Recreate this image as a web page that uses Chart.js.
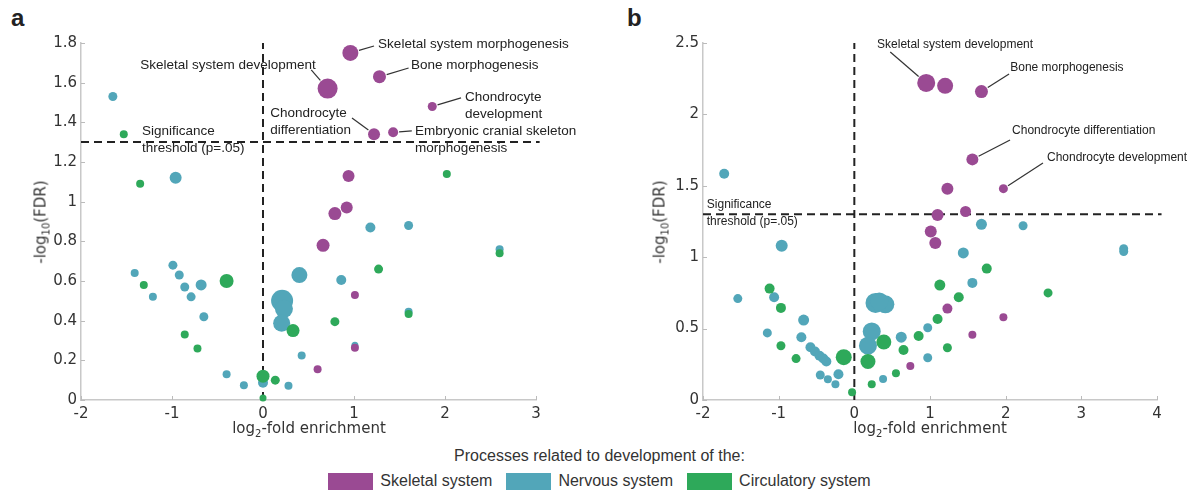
<!DOCTYPE html>
<html>
<head>
<meta charset="utf-8">
<script src="https://cdn.jsdelivr.net/npm/chart.js@4.4.1/dist/chart.umd.min.js"></script>
<style>
  body { margin: 0; width: 1199px; height: 494px; background: #fff; position: relative; overflow: hidden;
         font-family: "Liberation Sans", Arial, sans-serif; color: #222; }
  canvas { position: absolute; top: 0; }
  #chartA { left: 0; }
  #chartB { left: 600px; }
  .panel { position: absolute; font-weight: bold; font-size: 24px; line-height: 1; }
  .xt { position: absolute; top: 421px; font-family: "DejaVu Sans", sans-serif; font-size: 15px; line-height: 1;
        color: #333; transform: translateX(-50%); white-space: nowrap; }
  .yt { position: absolute; font-family: "DejaVu Sans", sans-serif; font-size: 15px; line-height: 1; color: #333;
        white-space: nowrap; transform: translate(-50%, -50%) rotate(-90deg); }
  sub { font-size: 10px; vertical-align: -4px; line-height: 0; }
  #legTitle { position: absolute; top: 448px; left: 0; width: 1199px; text-align: center; font-size: 16px; line-height: 1; color: #333; }
  #legend { position: absolute; top: 472px; left: 0; width: 1199px; display: flex; justify-content: center;
            font-size: 16px; line-height: 18px; color: #333; }
  .item { display: flex; align-items: center; margin: 0 7px; }
  .sw { width: 45px; height: 17px; margin-right: 7px; }
</style>
</head>
<body>
<div class="panel" style="left:11px; top:6px">a</div>
<div class="panel" style="left:627px; top:6px">b</div>
<canvas id="chartA" width="600" height="440"></canvas>
<canvas id="chartB" width="599" height="440"></canvas>
<div class="xt" style="left:309px">log<sub>2</sub>-fold enrichment</div>
<div class="xt" style="left:930px">log<sub>2</sub>-fold enrichment</div>
<div class="yt" style="left:41px; top:222px">-log<sub>10</sub>(FDR)</div>
<div class="yt" style="left:660px; top:222px">-log<sub>10</sub>(FDR)</div>
<div id="legTitle">Processes related to development of the:</div>
<div id="legend"></div>

<script>
// groups and colours
const groups = ['Skeletal system', 'Nervous system', 'Circulatory system'];
const groupColors = ['#9a4a93', '#52a6b9', '#2ea95a'];
const threshold = 1.301; // -log10(0.05)

// panel a: x = log2-fold enrichment, y = -log10(FDR), r = marker size
const aSkelX = [0.96, 1.28, 0.71, 1.86, 1.22, 1.43, 0.94, 0.92, 0.79, 0.66, 1.01, 1.01, 0.60];
const aSkelY = [1.75, 1.63, 1.57, 1.48, 1.34, 1.35, 1.13, 0.97, 0.94, 0.78, 0.53, 0.264, 0.155];
const aSkelR = [8, 6.5, 10, 4.5, 6, 5, 6, 6, 6.5, 6.5, 4, 4, 4];

const aNervX = [-1.65, -0.96, 1.18, 1.60, 2.60, 0.40, 0.86, 0.21, 0.23, 1.60, 0.205, 1.01, 0.425, 0.28, 0, -1.41, -1.21, -0.99, -0.92, -0.86, -0.79, -0.68, -0.65, -0.40, -0.21];
const aNervY = [1.53, 1.12, 0.87, 0.88, 0.76, 0.63, 0.605, 0.50, 0.46, 0.445, 0.387, 0.276, 0.225, 0.072, 0.087, 0.64, 0.52, 0.68, 0.63, 0.57, 0.52, 0.58, 0.42, 0.13, 0.074];
const aNervR = [4.5, 6, 5, 4.5, 4, 8, 5, 11, 9, 4, 8.5, 3.5, 4, 4, 5, 4, 4, 4.5, 4.5, 4.5, 4.5, 5.5, 4.5, 4, 4];

const aCircX = [-1.53, -1.35, 2.02, 1.27, 2.60, 1.60, 0.79, 0.33, -1.31, -0.40, -0.86, -0.72, 0, 0.135, 0];
const aCircY = [1.34, 1.09, 1.14, 0.66, 0.74, 0.434, 0.395, 0.35, 0.58, 0.60, 0.33, 0.26, 0.12, 0.10, 0.01];
const aCircR = [4, 4, 4, 4.5, 4, 4, 4.5, 6.5, 4, 7, 4, 4, 6.5, 4.5, 3.5];

// panel b
const bSkelX = [0.95, 1.20, 1.68, 1.56, 1.23, 1.97, 1.10, 1.47, 1.01, 1.07, 1.23, 1.97, 1.56, 0.74];
const bSkelY = [2.22, 2.20, 2.16, 1.685, 1.48, 1.48, 1.295, 1.32, 1.18, 1.10, 0.64, 0.58, 0.457, 0.238];
const bSkelR = [9, 8, 6.5, 6, 6, 4.5, 6, 5.5, 6, 6, 5, 4, 4, 4];

const bNervX = [-1.72, 1.68, 2.23, 1.44, 3.56, 3.56, 1.56, 0.97, 0.62, 0.97, 0.38, -0.96, -1.54, -1.06, -0.67, -1.15, -0.70, -0.58, -0.52, -0.46, -0.41, -0.37, -0.45, -0.35, -0.21, -0.25, 0.23, 0.18, 0.28, 0.41, 0.33];
const bNervY = [1.585, 1.23, 1.22, 1.03, 1.06, 1.04, 0.82, 0.506, 0.44, 0.296, 0.147, 1.08, 0.71, 0.72, 0.56, 0.47, 0.44, 0.37, 0.34, 0.31, 0.29, 0.27, 0.175, 0.145, 0.18, 0.11, 0.48, 0.38, 0.68, 0.67, 0.69];
const bNervR = [5, 5.5, 4.5, 5.5, 4.5, 4.5, 5, 4.5, 5.5, 4.5, 4, 6, 4.5, 5, 5.5, 4.5, 5, 5, 5, 5, 5, 5, 4.5, 4, 5, 4, 9, 9, 10, 9, 9];

const bCircX = [1.75, 1.13, 1.38, 2.56, 1.10, 0.85, 0.39, 1.23, 0.65, 0.55, -1.12, -0.97, -0.97, -0.77, -0.14, 0.18, 0.23, -0.03];
const bCircY = [0.92, 0.805, 0.72, 0.75, 0.567, 0.448, 0.406, 0.366, 0.35, 0.187, 0.78, 0.645, 0.38, 0.29, 0.30, 0.27, 0.11, 0.054];
const bCircR = [5, 5.5, 5, 4.5, 5, 5, 7.5, 4.5, 5, 4, 5, 5, 4.5, 4.5, 8, 7.5, 4, 4];

// labels: pt = index in the skeletal series, tx/ty = text anchor, lx/ly = end of leader line
const aNotes = [
  { lines: ['Skeletal system morphogenesis'], pt: 0, tx: 1.265, ty: 1.795, lx: 1.22, ly: 1.785 },
  { lines: ['Bone morphogenesis'], pt: 1, tx: 1.625, ty: 1.69, lx: 1.60, ly: 1.674 },
  { lines: ['Skeletal system development'], pt: 2, tx: 0.58, ty: 1.69, align: 'right', lx: 0.53, ly: 1.664 },
  { lines: ['Chondrocyte', 'development'], pt: 3, tx: 2.22, ty: 1.528, lx: 2.176, ly: 1.523 },
  { lines: ['Chondrocyte', 'differentiation'], pt: 4, tx: 0.08, ty: 1.447, lx: 0.978, ly: 1.422 },
  { lines: ['Embryonic cranial skeleton', 'morphogenesis'], pt: 5, tx: 1.67, ty: 1.357, lx: 1.635, ly: 1.357 },
  { lines: ['Significance', 'threshold (p=.05)'], tx: -1.33, ty: 1.357 }
];
const bNotes = [
  { lines: ['Skeletal system development'], pt: 0, tx: 0.30, ty: 2.486, lx: 0.475, ly: 2.437 },
  { lines: ['Bone morphogenesis'], pt: 2, tx: 2.06, ty: 2.325, lx: 2.045, ly: 2.283 },
  { lines: ['Chondrocyte differentiation'], pt: 3, tx: 2.085, ty: 1.884, lx: 2.058, ly: 1.821 },
  { lines: ['Chondrocyte development'], pt: 5, tx: 2.546, ty: 1.70, lx: 2.493, ly: 1.66 },
  { lines: ['Significance', 'threshold (p=.05)'], tx: -1.95, ty: 1.366 }
];

// legend
const legend = document.getElementById('legend');
groups.forEach((g, i) => {
  const it = document.createElement('div');
  it.className = 'item';
  it.innerHTML = '<div class="sw" style="background:' + groupColors[i] + '"></div><span>' + g + '</span>';
  legend.appendChild(it);
});

function points(xs, ys, rs) {
  return xs.map((x, i) => ({ x: x, y: ys[i], r: rs[i] }));
}

// dashed lines, inward ticks and text labels
const overlay = {
  id: 'overlay',
  beforeDatasetsDraw(chart, args, opts) {
    const { ctx, chartArea } = chart;
    const x = chart.scales.x, y = chart.scales.y;
    ctx.save();
    ctx.strokeStyle = '#bbb';
    ctx.lineWidth = 1;
    y.ticks.forEach(t => {
      const py = Math.round(y.getPixelForValue(t.value)) + 0.5;
      ctx.beginPath(); ctx.moveTo(chartArea.left, py); ctx.lineTo(chartArea.left + 4, py); ctx.stroke();
    });
    x.ticks.forEach(t => {
      const px = Math.round(x.getPixelForValue(t.value)) + 0.5;
      ctx.beginPath(); ctx.moveTo(px, chartArea.bottom); ctx.lineTo(px, chartArea.bottom - 4); ctx.stroke();
    });
    ctx.strokeStyle = '#222';
    ctx.lineWidth = 2;
    ctx.setLineDash([8, 5]);
    const yt = y.getPixelForValue(threshold);
    ctx.beginPath(); ctx.moveTo(chartArea.left, yt); ctx.lineTo(x.getPixelForValue(opts.hEnd), yt); ctx.stroke();
    const x0 = x.getPixelForValue(0);
    ctx.beginPath(); ctx.moveTo(x0, chartArea.bottom); ctx.lineTo(x0, chartArea.top); ctx.stroke();
    ctx.restore();
  },
  afterDatasetsDraw(chart, args, opts) {
    const { ctx } = chart;
    const x = chart.scales.x, y = chart.scales.y;
    const skel = chart.data.datasets[0].data;
    ctx.save();
    ctx.font = opts.fontSize + 'px "Liberation Sans", Arial, sans-serif';
    ctx.fillStyle = '#222';
    ctx.textBaseline = 'middle';
    opts.notes.forEach(n => {
      ctx.textAlign = n.align || 'left';
      const tx = x.getPixelForValue(n.tx), ty = y.getPixelForValue(n.ty);
      n.lines.forEach((s, i) => ctx.fillText(s, tx, ty + i * opts.lineHeight));
      if (n.pt !== undefined) {
        const p = skel[n.pt];
        const cx = x.getPixelForValue(p.x), cy = y.getPixelForValue(p.y);
        const ex = x.getPixelForValue(n.lx), ey = y.getPixelForValue(n.ly);
        const d = Math.hypot(ex - cx, ey - cy);
        const sx = cx + (ex - cx) / d * (p.r + 1), sy = cy + (ey - cy) / d * (p.r + 1);
        ctx.strokeStyle = '#333';
        ctx.lineWidth = 1.2;
        ctx.beginPath(); ctx.moveTo(sx, sy); ctx.lineTo(ex, ey); ctx.stroke();
      }
    });
    ctx.restore();
  }
};

function makeChart(id, skel, nerv, circ, cfg) {
  const tickFont = { family: 'DejaVu Sans', size: 15 };
  return new Chart(document.getElementById(id), {
    type: 'bubble',
    data: {
      datasets: [
        { label: groups[0], data: skel, backgroundColor: groupColors[0], order: 0 },
        { label: groups[1], data: nerv, backgroundColor: groupColors[1], order: 2 },
        { label: groups[2], data: circ, backgroundColor: groupColors[2], order: 1 }
      ]
    },
    options: {
      responsive: false,
      devicePixelRatio: 1,
      animation: false,
      events: [],
      clip: false,
      elements: { point: { borderWidth: 0, hoverRadius: 0 } },
      layout: { padding: { top: 43, right: cfg.padRight, left: 0, bottom: 0 } },
      plugins: {
        legend: { display: false },
        tooltip: { enabled: false },
        overlay: { hEnd: cfg.hEnd, notes: cfg.notes, fontSize: cfg.fontSize, lineHeight: 17 }
      },
      scales: {
        x: {
          type: 'linear', min: cfg.xMin, max: cfg.xMax,
          ticks: { stepSize: 1, font: tickFont, color: '#333', padding: 5 },
          grid: { display: true, drawOnChartArea: false, drawTicks: false },
          border: { display: true, color: '#c8c8c8', width: 1.5 },
          afterFit: s => { s.height = 40; }
        },
        y: {
          type: 'linear', min: 0, max: cfg.yMax,
          ticks: { stepSize: cfg.yStep, font: tickFont, color: '#333', padding: 4,
                   callback: v => String(+v.toFixed(2)) },
          grid: { display: true, drawOnChartArea: false, drawTicks: false },
          border: { display: true, color: '#c8c8c8', width: 1.5 },
          afterFit: s => { s.width = cfg.axisWidth; }
        }
      }
    },
    plugins: [overlay]
  });
}

makeChart('chartA', points(aSkelX, aSkelY, aSkelR), points(aNervX, aNervY, aNervR), points(aCircX, aCircY, aCircR),
  { xMin: -2, xMax: 3, yMax: 1.8, yStep: 0.2, axisWidth: 81, padRight: 64, hEnd: 3.04, notes: aNotes, fontSize: 13.5 });

makeChart('chartB', points(bSkelX, bSkelY, bSkelR), points(bNervX, bNervY, bNervR), points(bCircX, bCircY, bCircR),
  { xMin: -2, xMax: 4, yMax: 2.5, yStep: 0.5, axisWidth: 103, padRight: 42, hEnd: 4.06, notes: bNotes, fontSize: 12 });
</script>
</body>
</html>
